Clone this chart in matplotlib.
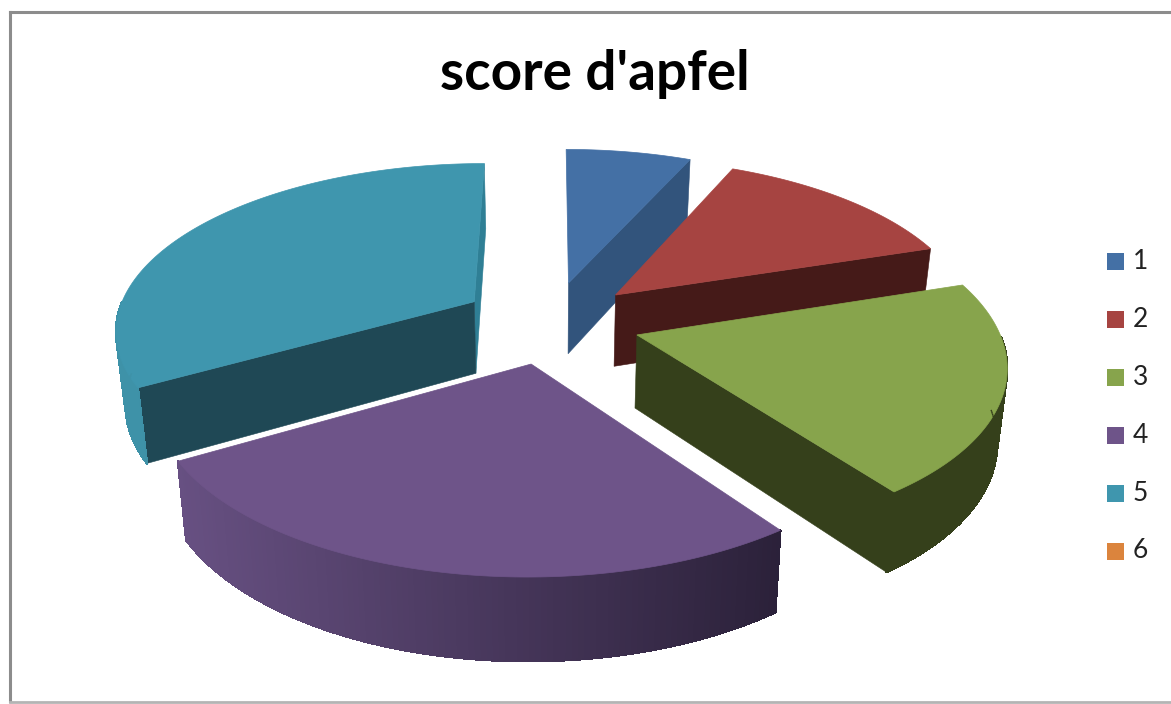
import numpy as np
import matplotlib
matplotlib.use("Agg")
import matplotlib.pyplot as plt
from matplotlib.collections import LineCollection, PolyCollection
from matplotlib.patches import Rectangle

# Data
title = "score d'apfel"
labels = ["1", "2", "3", "4", "5", "6"]
values = [1, 2, 3, 4, 5, 0]
colors = ["#4470A5", "#A64441", "#87A44C", "#6E5489", "#3F96AE", "#DB843D"]
cut_colors = ["#32547C", "#451A18", "#35401B", "#2E2439", "#1F4855", "#DB843D"]
rim_left = ["#4572A7", "#AA4643", "#3A4620", "#6C5488", "#3E92A8", "#DB843D"]
rim_right = ["#4572A7", "#AA4643", "#35401B", "#2A2038", "#2F7488", "#DB843D"]

# Projection of the pie plane onto the page (pixels)
cx, cy = 550.5, 322
ax_x, ax_y = 359, 165.4
persp = 0.155
taper = 0.022
explode = 0.25
depth = 72.5


def project(x, y, z=0.0):
    s = 1 / (1 - persp * y)
    k = 1 - taper * z
    return cx + ax_x * x * s * k, cy + ax_y * y * s * k + depth * z * s


def hexrgb(c):
    return np.array(matplotlib.colors.to_rgb(c))


fig = plt.figure(figsize=(11.71, 7.04), dpi=100)
ax = fig.add_axes([0, 0, 1, 1])
ax.set_xlim(0, 1171)
ax.set_ylim(704, 0)
ax.axis("off")

# chart frame
ax.plot([9.5, 1171], [11.5, 11.5], color="#8c8c8c", lw=2.2)
ax.plot([9.5, 9.5], [11.5, 701], color="#8c8c8c", lw=2.2)
ax.plot([9.5, 1171], [701.5, 701.5], color="#b4b4b4", lw=2.0)

fractions = np.array(values) / sum(values)
edges = np.concatenate([[0], np.cumsum(fractions) * 360])


def slice_geometry(i):
    a0, a1 = edges[i], edges[i + 1]
    mid = np.radians((a0 + a1) / 2)
    ox, oy = explode * np.sin(mid), -explode * np.cos(mid)
    t = np.radians(np.linspace(a0, a1, 121))
    return ox, oy, ox + np.sin(t), oy - np.cos(t), t


def face(px, py, pz):
    return np.array([project(x, y, z) for x, y, z in zip(px, py, pz)])


def cut_face(ox, oy, x, y, color):
    pts = face([ox, x, x, ox], [oy, y, y, oy], [0, 0, 1, 1])
    ax.add_patch(plt.Polygon(pts, fc=color, ec=color, lw=0.4))


def draw_slice(i):
    ox, oy, xs, ys, t = slice_geometry(i)
    if edges[i + 1] <= edges[i]:
        return
    if i == 4:
        cut_face(ox, oy, xs[-1], ys[-1], "#2F7F95")
        cut_face(ox, oy, xs[0], ys[0], cut_colors[i])
    elif i in (0, 1, 2):
        cut_face(ox, oy, xs[-1], ys[-1], cut_colors[i])
    # outer rim, the part turned to the viewer
    quads, shades, lower = [], [], []
    left, right = hexrgb(rim_left[i]), hexrgb(rim_right[i])
    keep = np.where(np.cos(t) < 0)[0]
    for j in keep[:-1]:
        q = face([xs[j], xs[j + 1], xs[j + 1], xs[j]], [ys[j], ys[j + 1], ys[j + 1], ys[j]], [0, 0, 1, 1])
        quads.append(q)
        lower.append(q[2:])
        pos = (q[:, 0].mean() - 130) / (790 - 130)
        shades.append(left + (right - left) * np.clip(pos, 0, 1))
    if quads:
        ax.add_collection(PolyCollection(quads, facecolors=shades, edgecolors=shades,
                                         linewidths=1.0, antialiaseds=False))
        ax.add_collection(LineCollection(lower, colors=shades, linewidths=1.0))
    # top
    top = face(np.r_[ox, xs], np.r_[oy, ys], np.zeros(len(xs) + 1))
    ax.add_patch(plt.Polygon(top, fc=colors[i], ec=colors[i], lw=0.5))


# back slices first
for i in [0, 1, 4, 2, 3]:
    draw_slice(i)

ax.text(595, 74, title, ha="center", va="center", fontsize=39.5, fontweight="bold",
        family="Lato", color="black")

for i, lab in enumerate(labels):
    y = 261.5 + i * 57.9
    ax.add_patch(Rectangle((1107, y - 8.5), 16.5, 17, fc=colors[i], ec="none"))
    ax.text(1133, y, lab, ha="left", va="center", fontsize=19, family="Lato", color="#222222")

fig.savefig("out.png", dpi=100)
plt.close()
